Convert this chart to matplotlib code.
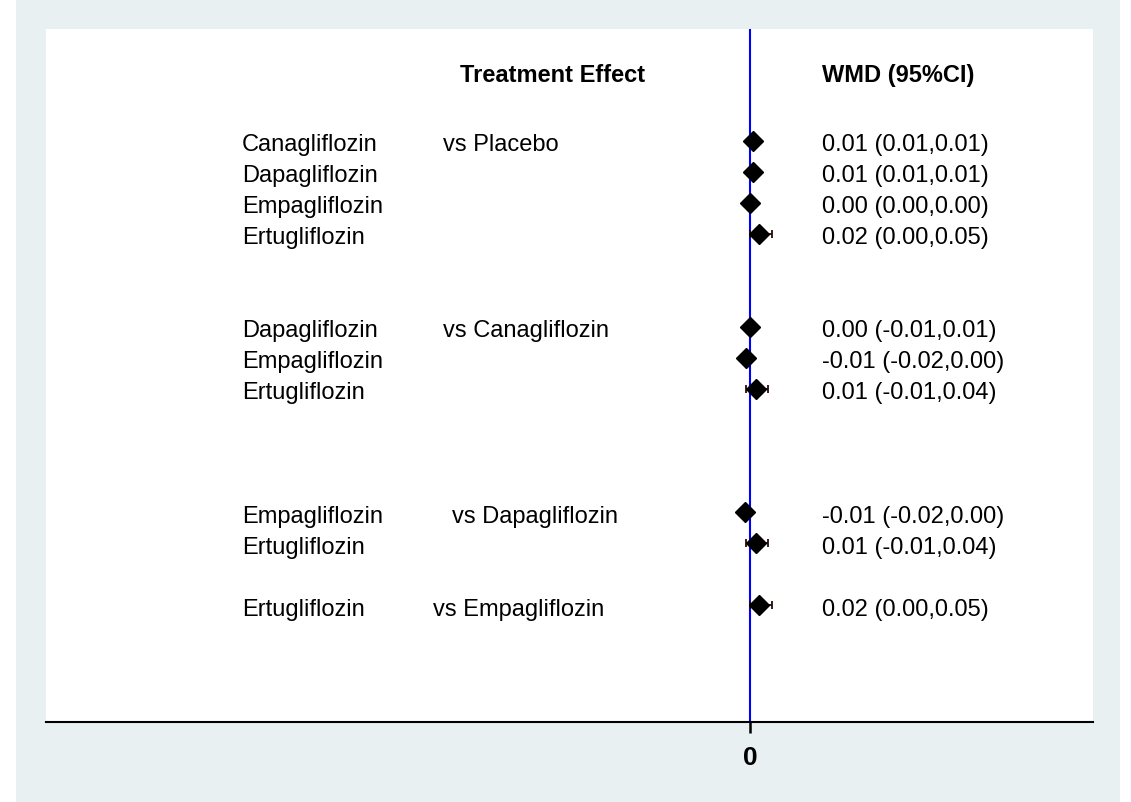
import matplotlib.pyplot as plt
from matplotlib.patches import Rectangle
from matplotlib import transforms

plt.rcParams['font.family'] = ['Liberation Sans', 'DejaVu Sans']

treatments = ["Canagliflozin", "Dapagliflozin", "Empagliflozin", "Ertugliflozin",
              "Dapagliflozin", "Empagliflozin", "Ertugliflozin",
              "Empagliflozin", "Ertugliflozin",
              "Ertugliflozin"]
comparators = ["vs Placebo", "", "", "",
               "vs Canagliflozin", "", "",
               "vs Dapagliflozin", "",
               "vs Empagliflozin"]
wmd = [0.007, 0.006, 0.0, 0.02,
       0.0, -0.01, 0.013,
       -0.012, 0.013,
       0.02]
lower = [0.005, 0.005, 0.0, 0.0,
         -0.01, -0.02, -0.01,
         -0.02, -0.01,
         0.0]
upper = [0.01, 0.01, 0.0, 0.05,
         0.01, 0.0, 0.04,
         0.0, 0.04,
         0.05]
labels = ["0.01 (0.01,0.01)", "0.01 (0.01,0.01)", "0.00 (0.00,0.00)", "0.02 (0.00,0.05)",
          "0.00 (-0.01,0.01)", "-0.01 (-0.02,0.00)", "0.01 (-0.01,0.04)",
          "-0.01 (-0.02,0.00)", "0.01 (-0.01,0.04)",
          "0.02 (0.00,0.05)"]
rows = [1, 2, 3, 4, 7, 8, 9, 13, 14, 16]

W, H = 1131, 802
fig = plt.figure(figsize=(W / 100, H / 100), dpi=100)
bg = Rectangle((16 / W, 0), (1120 - 16) / W, 1, transform=fig.transFigure,
               facecolor="#e8f0f2", edgecolor="none", zorder=-10)
fig.patches.append(bg)
ax = fig.add_axes([46 / W, (H - 722) / H, (1093 - 46) / W, (722 - 29) / H])
ax.set_facecolor("white")
ax.set_zorder(1)

ax.set_xlim(-1.584, 0.771)
ax.set_ylim(19.68, -2.68)

ax.axvline(0, color="blue", lw=1.5, zorder=1)

for r, m, lo, hi in zip(rows, wmd, lower, upper):
    ax.errorbar(m, r - 0.08, xerr=[[m - lo], [hi - m]], fmt="none", ecolor="#2a0a0a",
                elinewidth=1.3, capsize=3, capthick=1.3, zorder=2)
    ax.plot(m, r - 0.08, marker="D", color="black", ms=10.5, zorder=3)

blend = transforms.blended_transform_factory(fig.transFigure, ax.transData)
blend = transforms.offset_copy(blend, fig=fig, y=-1.5, units="points")
x_trt, x_wmd = 242 / W, 822 / W
fs = 17
ax.text(460 / W, -1.26, "Treatment Effect", transform=blend, fontsize=fs,
        fontweight="bold", va="center", ha="left")
ax.text(x_wmd, -1.26, "WMD (95%CI)", transform=blend, fontsize=fs,
        fontweight="bold", va="center", ha="left")

cmp_x = {"vs Placebo": 443, "vs Canagliflozin": 443, "vs Dapagliflozin": 452,
         "vs Empagliflozin": 433}
for r, t, c, lab in zip(rows, treatments, comparators, labels):
    ax.text(x_trt, r, t, transform=blend, fontsize=fs, va="center", ha="left")
    if c:
        ax.text(cmp_x[c] / W, r, c, transform=blend, fontsize=fs, va="center", ha="left")
    ax.text(x_wmd, r, lab, transform=blend, fontsize=fs, va="center", ha="left")

for s in ["top", "left", "right"]:
    ax.spines[s].set_visible(False)
ax.spines["bottom"].set_linewidth(1.5)
ax.set_yticks([])
ax.set_xticks([0])
ax.set_xticklabels(["0"], fontweight="bold")
ax.tick_params(axis="x", length=8, width=1.8, pad=9, labelsize=19)

fig.savefig("out.png", dpi=100)
